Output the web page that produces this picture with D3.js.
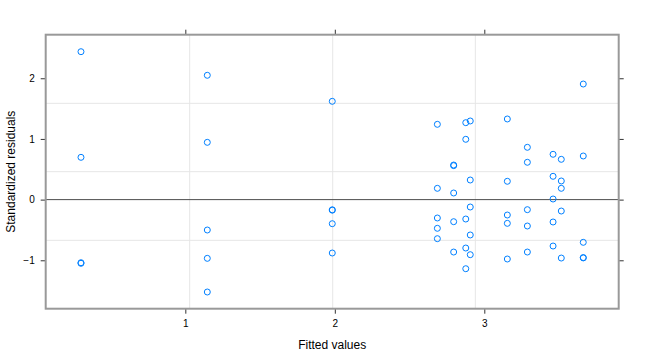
<!DOCTYPE html>
<html><head><meta charset="utf-8">
<script src="https://cdn.jsdelivr.net/npm/d3@7"></script>
<style>body{margin:0;background:#fff}svg{display:block}</style>
</head><body><svg id="c" width="648" height="360"></svg>
<script>
const fitted = [
  0.302, 0.302, 0.302, 0.302,
  1.147, 1.147, 1.147, 1.147, 1.147,
  1.983, 1.983, 1.983, 1.983, 1.983,
  2.686, 2.686, 2.686, 2.686, 2.686,
  2.795, 2.795, 2.795, 2.795, 2.795,
  2.876, 2.876, 2.876, 2.876, 2.876,
  2.906, 2.906, 2.906, 2.906, 2.906,
  3.154, 3.154, 3.154, 3.154, 3.154,
  3.288, 3.288, 3.288, 3.288, 3.288,
  3.460, 3.460, 3.460, 3.460, 3.460,
  3.515, 3.515, 3.515, 3.515, 3.515,
  3.662, 3.662, 3.662, 3.662, 3.662
];
const residuals = [
  2.438, 0.697, -1.040, -1.050,
  2.049, 0.944, -0.501, -0.968, -1.523,
  1.620, -0.168, -0.174, -0.397, -0.880,
  1.241, 0.186, -0.303, -0.473, -0.644,
  0.560, 0.570, 0.109, -0.364, -0.864,
  1.268, 0.994, -0.320, -0.798, -1.139,
  1.296, 0.323, -0.122, -0.583, -0.908,
  1.329, 0.302, -0.254, -0.391, -0.979,
  0.862, 0.615, -0.166, -0.435, -0.864,
  0.747, 0.384, 0.010, -0.369, -0.765,
  0.664, 0.307, 0.186, -0.188, -0.963,
  1.905, 0.719, -0.704, -0.955, -0.961
];
const xTicks = [1, 2, 3];
const yTicks = [-1, 0, 1, 2];
const xGrid = [1.029, 1.986, 2.940];
const yGrid = [-0.671, 0.460, 1.587];
const xLabel = "Fitted values";
const yLabel = "Standardized residuals";

const L = 45.7, R = 618.7, T = 34.7, B = 308.7;
const x = d3.scaleLinear().domain([0.066, 3.899]).range([L, R]);
const y = d3.scaleLinear().domain([-1.798, 2.718]).range([B, T]);
const svg = d3.select("#c");
const font = "'Liberation Sans', Arial, Helvetica, sans-serif";

// grid
const g = svg.append("g");
g.selectAll("line.vg").data(xGrid).join("line")
  .attr("x1", d => x(d)).attr("x2", d => x(d)).attr("y1", T).attr("y2", B)
  .attr("stroke", "#e6e6e6").attr("stroke-width", 1);
g.selectAll("line.hg").data(yGrid).join("line")
  .attr("y1", d => y(d)).attr("y2", d => y(d)).attr("x1", L).attr("x2", R)
  .attr("stroke", "#e6e6e6").attr("stroke-width", 1);
// reference line at 0
g.append("line").attr("x1", L).attr("x2", R).attr("y1", y(0)).attr("y2", y(0))
  .attr("stroke", "#4d4d4d").attr("stroke-width", 1);

// points
svg.append("g").selectAll("circle").data(fitted.map((f, i) => [f, residuals[i]])).join("circle")
  .attr("cx", d => x(d[0])).attr("cy", d => y(d[1])).attr("r", 3)
  .attr("fill", "none").attr("stroke", "#0080ff").attr("stroke-width", 1);

// axes
function styleAxis(sel, labels) {
  sel.select(".domain").remove();
  sel.selectAll(".tick line").attr("stroke", "#333");
  sel.selectAll("text").attr("font-family", font).attr("font-size", 10).attr("fill", "#000");
  if (!labels) sel.selectAll("text").remove();
}
svg.append("g").attr("transform", `translate(${L},0)`)
  .call(d3.axisLeft(y).tickValues(yTicks).tickSize(5).tickPadding(6).tickFormat(d3.format("d")))
  .call(s => styleAxis(s, true));
svg.append("g").attr("transform", `translate(0,${B})`)
  .call(d3.axisBottom(x).tickValues(xTicks).tickSize(5).tickPadding(6.5).tickFormat(d3.format("d")))
  .call(s => styleAxis(s, true));
svg.append("g").attr("transform", `translate(0,${T})`)
  .call(d3.axisTop(x).tickValues(xTicks).tickSize(5))
  .call(s => styleAxis(s, false));
svg.append("g").attr("transform", `translate(${R},0)`)
  .call(d3.axisRight(y).tickValues(yTicks).tickSize(5))
  .call(s => styleAxis(s, false));

// border
svg.append("rect").attr("x", L).attr("y", T).attr("width", R - L).attr("height", B - T)
  .attr("fill", "none").attr("stroke", "#999").attr("stroke-width", 2);

// titles
svg.append("text").attr("x", (L + R) / 2).attr("y", 349).attr("text-anchor", "middle")
  .attr("font-family", font).attr("font-size", 12).text(xLabel);
svg.append("text").attr("transform", `translate(15,${(T + B) / 2}) rotate(-90)`)
  .attr("text-anchor", "middle").attr("font-family", font).attr("font-size", 12).text(yLabel);
</script>
</body></html>
